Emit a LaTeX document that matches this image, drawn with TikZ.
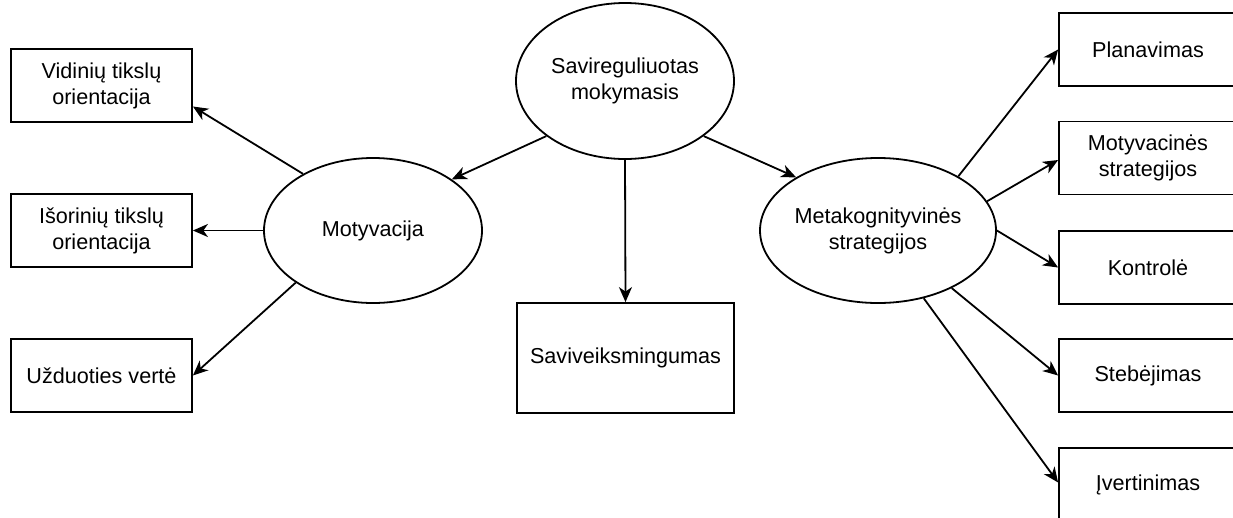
\documentclass[tikz,border=0pt]{standalone}
\usepackage{fontspec}
\setmainfont{Liberation Sans}
\usetikzlibrary{shapes.geometric,arrows.meta}
\begin{document}
\begin{tikzpicture}[x=1pt,y=-1pt,
  every node/.style={font=\fontsize{21.6}{26}\selectfont, align=center,
    line width=1.8pt, draw, inner sep=0pt},
  oval/.style={ellipse, minimum width=218pt, minimum height=145pt},
  leftbox/.style={rectangle, minimum width=181pt, minimum height=73pt},
  rightbox/.style={rectangle, minimum width=178pt, minimum height=73pt},
  link/.style={line width=1.8pt, -{Stealth[length=15pt,width=13pt,inset=4.5pt]}}
]
\useasboundingbox (0,0) rectangle (1233,517);
\clip (0,0) rectangle (1233,517);

% central concept and its three branches
\node[oval, minimum height=156pt] (srl) at (625,81) {\raisebox{-5pt}{\begin{tabular}{@{}c@{}}Savireguliuotas\\mokymasis\end{tabular}}};
\node[oval] (mot) at (373,230.5) {Motyvacija};
\node[oval] (meta) at (878,230.5) {Metakognityvinės\\strategijos};
\node[rectangle, minimum width=217pt, minimum height=110pt] (eff) at (625.5,358) {Saviveiksmingumas};

% motivation components
\node[leftbox] (vid) at (101.5,85.5) {Vidinių tikslų\\orientacija};
\node[leftbox] (isor) at (101.5,230.5) {Išorinių tikslų\\orientacija};
\node[leftbox] (uzd) at (101.5,375.5) {Užduoties vertė};

% metacognitive strategies
\node[rightbox] (plan) at (1148,49.5) {Planavimas};
\node[rightbox] (mstr) at (1148,158) {Motyvacinės\\strategijos};
\node[rightbox] (kont) at (1148,267.5) {Kontrolė};
\node[rightbox] (steb) at (1148,375.5) {Stebėjimas};
\node[rightbox] (ivert) at (1148,484.5) {Įvertinimas};

% connectors
\draw[link] (srl.215.7) -- (mot.33);
\draw[link] (srl.-35) -- (meta.147);
\draw[link] (srl.south) -- (eff.north);

\draw[link] (mot.141) -- ([yshift=-21pt]vid.east);
\draw[link] (mot.west) -- (isor.east);
\draw[link] (mot.214) -- (uzd.east);

\draw[link] (meta.34) -- (plan.west);
\draw[link] (meta.15.4) -- ([yshift=-2pt]mstr.west);
\draw[link] (meta.east) -- (kont.west);
\draw[link] (meta.-38.5) -- (steb.west);
\draw[link] (meta.-56.5) -- ([yshift=2pt]ivert.west);
\end{tikzpicture}
\end{document}
